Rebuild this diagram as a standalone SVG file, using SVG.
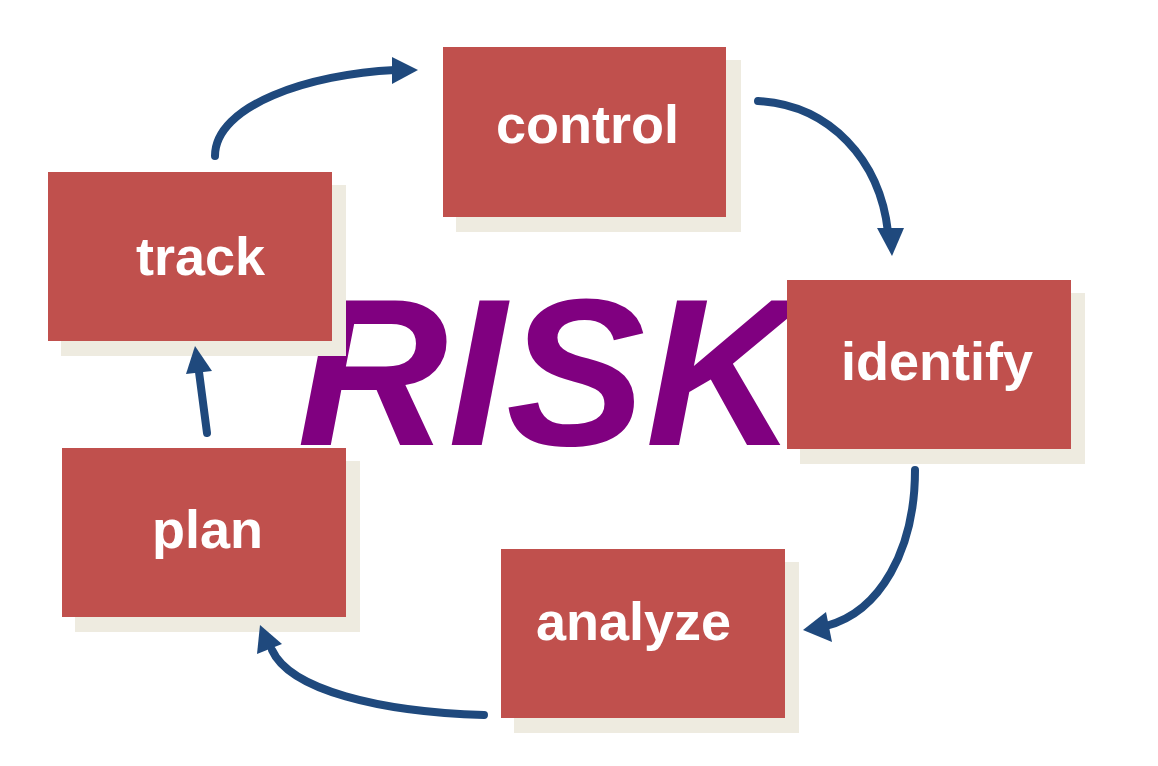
<svg xmlns="http://www.w3.org/2000/svg" width="1158" height="766" viewBox="0 0 1158 766">
<style>
.sh{fill:#EEEBE0}
.bx{fill:#C0504D}
.lb{fill:#FFFFFF;font-family:"Liberation Sans",Arial,sans-serif;font-weight:bold;font-size:54px;text-anchor:middle}
.ar{fill:none;stroke:#1F497D;stroke-width:8;stroke-linecap:round}
.hd{fill:#1F497D}
</style>
<rect width="1158" height="766" fill="#FFFFFF"/>
<text id="risk" x="297" y="445" font-family="'Liberation Sans',Arial,sans-serif" font-weight="bold" font-style="italic" font-size="209" fill="#800080">RISK</text>
<g id="control"><rect class="sh" x="456" y="60" width="285" height="172"/><rect class="bx" x="443" y="47" width="283" height="170"/><text class="lb" x="587.5" y="143">control</text></g>
<g id="track"><rect class="sh" x="61" y="185" width="285" height="171"/><rect class="bx" x="48" y="172" width="284" height="169"/><text class="lb" x="200.5" y="275">track</text></g>
<g id="identify"><rect class="sh" x="800" y="293" width="285" height="171"/><rect class="bx" x="787" y="280" width="284" height="169"/><text class="lb" x="937" y="380">identify</text></g>
<g id="plan"><rect class="sh" x="75" y="461" width="285" height="171"/><rect class="bx" x="62" y="448" width="284" height="169"/><text class="lb" x="207.5" y="548">plan</text></g>
<g id="analyze"><rect class="sh" x="514" y="562" width="285" height="171"/><rect class="bx" x="501" y="549" width="284" height="169"/><text class="lb" x="633.5" y="640">analyze</text></g>
<g id="connectors">
<path class="ar" d="M215,156 C215,105 310,74 395,70"/>
<polygon class="hd" points="392,57 418,70 392,84"/>
<path class="ar" d="M758,101 C830,105 880,160 888,232"/>
<polygon class="hd" points="877,228 904,228 892,256"/>
<path class="ar" d="M915,470 C915,550 880,612 826,626"/>
<polygon class="hd" points="826,612 832,642 803,630"/>
<path class="ar" d="M484,715 C380,712 290,690 272,650"/>
<polygon class="hd" points="257,654 282,644 260,625"/>
<path class="ar" d="M207,433 L199,372"/>
<polygon class="hd" points="186,374 212,371 195,346"/>
</g>
</svg>
